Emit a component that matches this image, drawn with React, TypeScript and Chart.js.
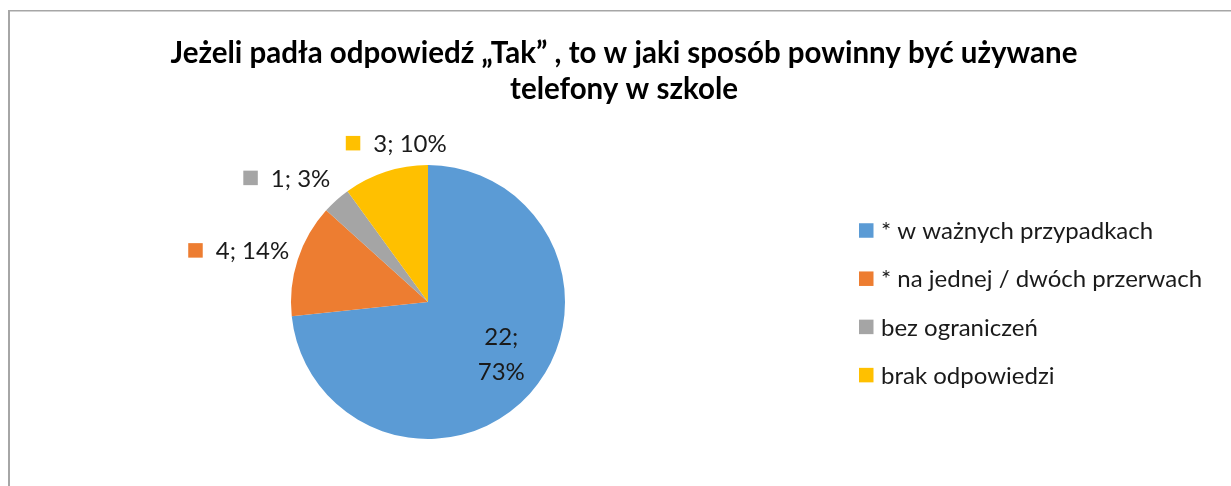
import React, { useEffect, useRef } from "react";
import { Chart, registerables } from "chart.js";

Chart.register(...registerables);

const titleLines = [
  "Jeżeli padła odpowiedź „Tak” , to w jaki sposób powinny być używane",
  "telefony w szkole",
];
const categories = [
  "* w ważnych przypadkach",
  "* na jednej / dwóch przerwach",
  "bez ograniczeń",
  "brak odpowiedzi",
];
const counts = [22, 4, 1, 3];
const percentLabels = ["73%", "14%", "3%", "10%"];
const colors = ["#5B9BD5", "#ED7D31", "#A5A5A5", "#FFC000"];

const FONT = "Lato, 'Open Sans', sans-serif";

const decorPlugin = {
  id: "decor",
  beforeDraw(chart: any) {
    const ctx = chart.ctx;
    ctx.save();
    ctx.fillStyle = "#ffffff";
    ctx.fillRect(0, 0, chart.width, chart.height);
    ctx.fillStyle = "#a6a6a6";
    ctx.fillRect(8, 10, 2, chart.height - 10);
    ctx.fillRect(8, 10, chart.width - 8, 1.5);
    ctx.restore();
  },
  afterDraw(chart: any) {
    const ctx = chart.ctx;
    ctx.save();
    // title
    ctx.fillStyle = "#000000";
    ctx.font = `bold 29.5px ${FONT}`;
    ctx.textAlign = "center";
    ctx.textBaseline = "alphabetic";
    titleLines.forEach((t, i) => ctx.fillText(t, 624, 63 + i * 36));

    // legend
    const labels = chart.data.labels as string[];
    const bg = chart.data.datasets[0].backgroundColor as string[];
    ctx.font = `24px ${FONT}`;
    ctx.textAlign = "left";
    ctx.textBaseline = "middle";
    labels.forEach((l, i) => {
      const y = 230.5 + i * 48.2;
      ctx.fillStyle = bg[i];
      ctx.fillRect(859, y - 7.25, 14.5, 14.5);
      ctx.fillStyle = "#1a1a1a";
      ctx.fillText(l, 881, y + 1);
    });

    // data labels
    const meta = chart.getDatasetMeta(0);
    const total = counts.reduce((a, b) => a + b, 0);
    ctx.font = `24px ${FONT}`;
    meta.data.forEach((arc: any, i: number) => {
      const { x: cx, y: cy, startAngle, endAngle, outerRadius: r } = arc.getProps(
        ["x", "y", "startAngle", "endAngle", "outerRadius"],
        true
      );
      const mid = (startAngle + endAngle) / 2;
      const dx = Math.cos(mid);
      const dy = Math.sin(mid);
      const share = counts[i] / total;
      ctx.fillStyle = "#1a1a1a";
      if (share > 0.25) {
        const lx = cx + dx * r * 0.72;
        const ly = cy + dy * r * 0.57;
        ctx.textAlign = "center";
        ctx.fillText(`${counts[i]};`, lx, ly - 17);
        ctx.fillText(percentLabels[i], lx, ly + 18);
        return;
      }
      const text = `${counts[i]}; ${percentLabels[i]}`;
      const tw = ctx.measureText(text).width;
      const m = 14.5;
      const gap = 13;
      const w = m + gap + tw;
      let left: number;
      if (Math.abs(dx) < 0.5) {
        left = cx + dx * r * 0.75 - w / 2;
      } else if (dx < 0) {
        left = cx + dx * (r + 9) - w;
      } else {
        left = cx + dx * (r + 9);
      }
      const yc = cy + dy * (r + 30);
      ctx.fillStyle = colors[i];
      ctx.fillRect(left, yc - m / 2, m, m);
      ctx.fillStyle = "#1a1a1a";
      ctx.textAlign = "left";
      ctx.fillText(text, left + m + gap, yc + 1);
    });
    ctx.restore();
  },
};

export default function App() {
  const ref = useRef<HTMLCanvasElement | null>(null);
  useEffect(() => {
    if (!ref.current) return;
    const chart = new Chart(ref.current, {
      type: "pie",
      data: {
        labels: categories,
        datasets: [
          {
            data: counts,
            backgroundColor: colors,
            borderWidth: 0,
          },
        ],
      },
      options: {
        responsive: false,
        animation: false,
        devicePixelRatio: 1,
        layout: { padding: { top: 165, bottom: 47, left: 291, right: 666 } },
        plugins: {
          legend: { display: false },
          title: { display: false },
          tooltip: { enabled: false },
        },
      },
      plugins: [decorPlugin],
    });
    return () => chart.destroy();
  }, []);
  return (
    <div style={{ position: "absolute", left: 0, top: 0, width: 1231, height: 486 }}>
      <canvas ref={ref} width={1231} height={486} />
    </div>
  );
}
